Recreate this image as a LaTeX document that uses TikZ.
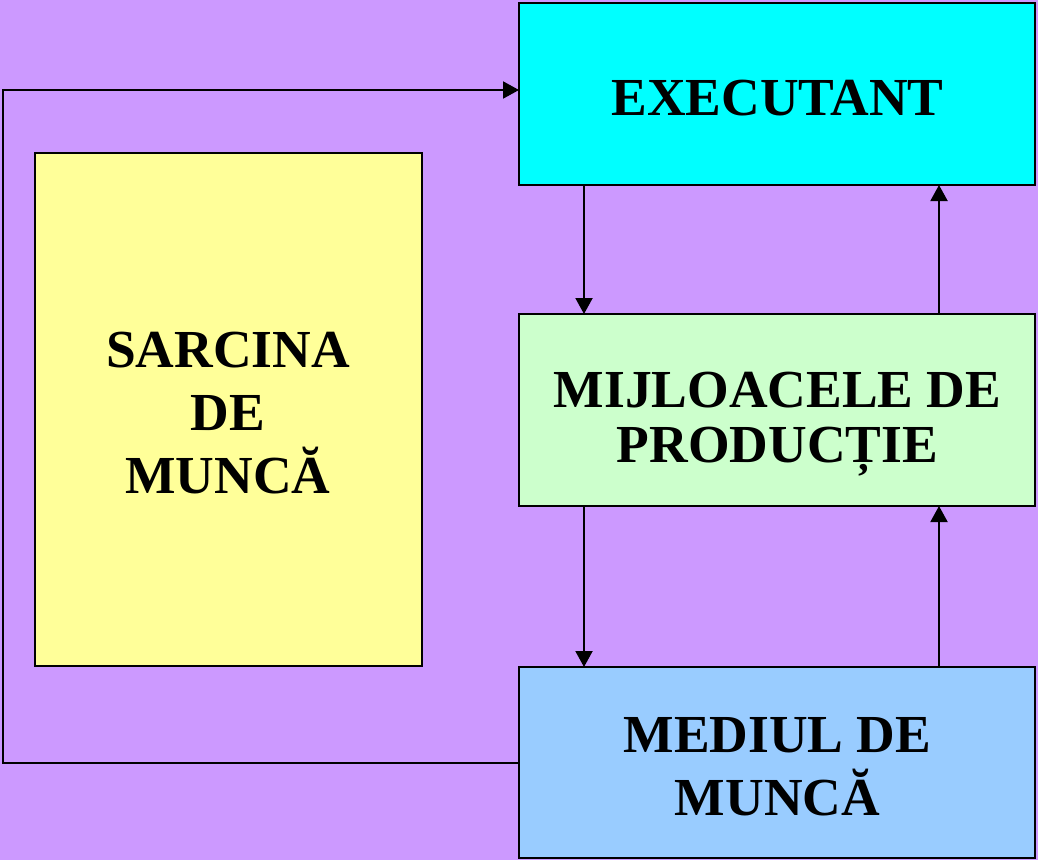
\documentclass[tikz,border=0pt]{standalone}
\usepackage{fontspec}
\setmainfont{Liberation Serif}
\usetikzlibrary{arrows.meta}
\definecolor{bgc}{HTML}{CC99FF}
\definecolor{cexec}{HTML}{00FFFF}
\definecolor{csarc}{HTML}{FFFF99}
\definecolor{cmij}{HTML}{CCFFCC}
\definecolor{cmed}{HTML}{99CCFF}
\tikzset{
  box/.style={draw=black, line width=1.8pt, inner sep=0pt, outer sep=0pt},
  lbl/.style={anchor=base, align=center, inner sep=0pt, font=\bfseries\fontsize{53.5}{63}\selectfont},
  arr/.style={line width=2pt, -{Triangle[length=16pt,width=17pt]}}
}
\begin{document}
\begin{tikzpicture}[x=1pt,y=-1pt]
\fill[bgc] (0,0) rectangle (1038,860);
\useasboundingbox (0,0) rectangle (1038,860);
% boxes
\node[box, fill=cexec, minimum width=516pt, minimum height=182pt] (exec) at (777,94) {};
\node[box, fill=csarc, minimum width=387pt, minimum height=513pt] (sarc) at (228.5,409.5) {};
\node[box, fill=cmij, minimum width=516pt, minimum height=192pt] (mij) at (777,410) {};
\node[box, fill=cmed, minimum width=516pt, minimum height=191pt] (med) at (777,762.5) {};
% labels (base anchor = baseline of the last line)
\node[lbl] (exect) at (777.5,115) {EXECUTANT};
\node[lbl, font=\bfseries\fontsize{53.5}{55}\selectfont] (mijt) at (777.5,462) {MIJLOACELE DE\\PRODUCȚIE};
\node[lbl] (sarct) at (228,493) {SARCINA\\DE\\MUNCĂ};
\node[lbl] (medt) at (777.5,815) {MEDIUL DE\\MUNCĂ};
% helper coordinates
\coordinate (d1) at (584,0);
\coordinate (u1) at (939,0);
\coordinate (loopA) at (3,763);
\coordinate (loopB) at (3,90);
% connectors
\draw[arr] (exec.south -| d1) -- (mij.north -| d1);
\draw[arr] (mij.north -| u1) -- (exec.south -| u1);
\draw[arr] (mij.south -| d1) -- (med.north -| d1);
\draw[arr] (med.north -| u1) -- (mij.south -| u1);
\draw[arr] (med.west |- loopA) -- (loopA) -- (loopB) -- (exec.west |- loopB);
\end{tikzpicture}
\end{document}
